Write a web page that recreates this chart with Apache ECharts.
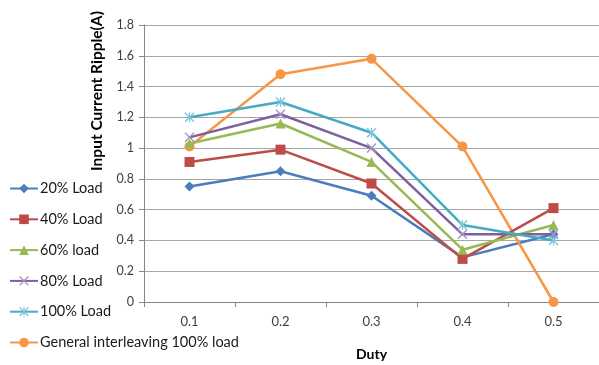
<!DOCTYPE html>
<html>
<head>
<meta charset="utf-8">
<script src="https://cdn.jsdelivr.net/npm/echarts@6/dist/echarts.min.js"></script>
<style>html,body{margin:0;padding:0;background:#fff;}#c{width:599px;height:365px;}</style>
</head>
<body>
<div id="c"></div>
<script>
var categories = ['0.1', '0.2', '0.3', '0.4', '0.5'];
var load20 = [0.75, 0.85, 0.69, 0.29, 0.44];
var load40 = [0.91, 0.99, 0.77, 0.28, 0.61];
var load60 = [1.03, 1.16, 0.91, 0.34, 0.50];
var load80 = [1.07, 1.22, 1.00, 0.44, 0.44];
var load100 = [1.20, 1.30, 1.10, 0.50, 0.40];
var general100 = [1.01, 1.48, 1.58, 1.01, 0.00];
var seriesNames = ['20% Load', '40% Load', '60% load', '80% Load', '100% Load', 'General interleaving 100% load'];
var yTicks = { min: 0, max: 1.8, interval: 0.2 };

var colors = ['#4A7EBB', '#BE4B48', '#98B954', '#7D60A0', '#46AAC5', '#F79646'];
var xPath = 'path://M0,1L1,0L5,4L9,0L10,1L6,5L10,9L9,10L5,6L1,10L0,9L4,5Z';
var starPath = 'path://M0,1L1,0L5,4L9,0L10,1L6,5L10,9L9,10L5,6L1,10L0,9L4,5Z M4.4,0L5.6,0L5.6,10L4.4,10Z';
var symbols = ['diamond', 'rect', 'triangle', xPath, starPath, 'circle'];
var sizes = [10, 10, 10, 10, 10, 10];
var symColors = ['#4A7EBB', '#BE4B48', '#98B954', '#A593C2', '#7DC6DB', '#F79646'];
var data = [load20, load40, load60, load80, load100, general100];

var series = data.map(function (d, i) {
  return {
    name: seriesNames[i],
    type: 'line',
    data: d,
    symbol: symbols[i],
    symbolSize: sizes[i],
    showAllSymbol: true,
    lineStyle: { color: colors[i], width: 2.5 },
    itemStyle: { color: symColors[i] },
    emphasis: { disabled: true },
    z: 2 + (i === 5 ? 0 : i)
  };
});

var chart = echarts.init(document.getElementById('c'), null, { renderer: 'canvas' });
chart.setOption({
  animation: false,
  textStyle: { fontFamily: 'Lato' },
  grid: { left: 144, right: 0, top: 25, bottom: 63, containLabel: false, outerBoundsMode: 'none' },
  legend: {
    orient: 'vertical',
    left: 9,
    top: 181,
    padding: 0,
    itemWidth: 28,
    itemHeight: 12,
    itemGap: 15.8,
    data: seriesNames,
    textStyle: { fontFamily: 'Lato', fontSize: 14.5, lineHeight: 14, color: '#1a1a1a', padding: [0, 0, 0, -3] }
  },
  xAxis: {
    type: 'category',
    data: categories,
    boundaryGap: true,
    name: 'Duty',
    nameLocation: 'middle',
    nameGap: 45,
    nameTextStyle: { fontFamily: 'Lato', fontSize: 14, fontWeight: 'bold', color: '#000' },
    axisLine: { lineStyle: { color: '#868686', width: 1 } },
    axisTick: { show: true, length: 5, lineStyle: { color: '#868686' } },
    axisLabel: { margin: 13, fontSize: 13, color: '#404040', fontFamily: 'Lato' },
    splitLine: { show: false }
  },
  yAxis: {
    type: 'value',
    min: yTicks.min,
    max: yTicks.max,
    interval: yTicks.interval,
    axisLine: { show: true, lineStyle: { color: '#868686', width: 1 } },
    axisTick: { show: true, length: 5, lineStyle: { color: '#868686' } },
    axisLabel: { margin: 10, fontSize: 12.5, color: '#404040', fontFamily: 'Lato' },
    splitLine: { lineStyle: { color: '#A6A6A6', width: 1 } }
  },
  graphic: [{
    type: 'text',
    x: 97,
    y: 91,
    rotation: Math.PI / 2,
    style: {
      text: 'Input Current Ripple(A)',
      fontFamily: 'Lato',
      fontSize: 15.5,
      fontWeight: 'bold',
      fill: '#000',
      textAlign: 'center',
      textVerticalAlign: 'middle'
    }
  }],
  series: series
});
</script>
</body>
</html>
